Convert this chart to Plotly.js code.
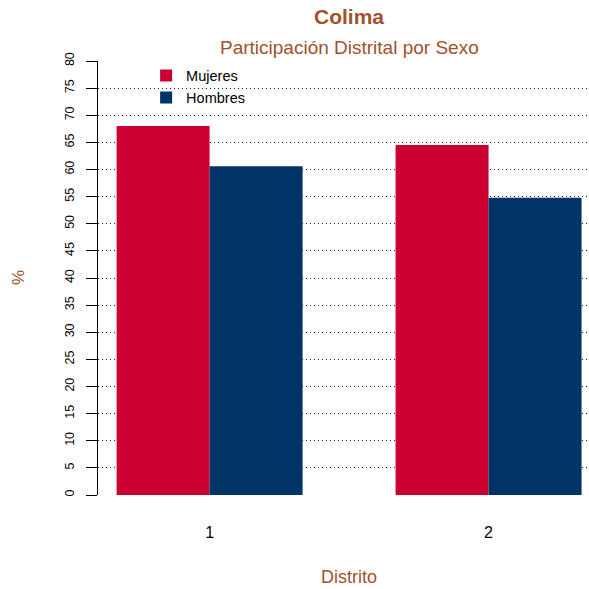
<!DOCTYPE html>
<html>
<head>
<meta charset="utf-8">
<script src="https://cdn.plot.ly/plotly-3.0.1.min.js"></script>
<style>html,body{margin:0;padding:0;background:#fff}</style>
</head>
<body>
<div id="chart" style="width:589px;height:589px"></div>
<script>
var distritos = ["1", "2"];
var mujeres = [68.0, 64.5];
var hombres = [60.6, 54.8];
var seriesNames = ["Mujeres", "Hombres"];
var yTicks = [0,5,10,15,20,25,30,35,40,45,50,55,60,65,70,75,80];

var sienna = "#A0522D";
var font = "Liberation Sans, Arial, sans-serif";

var traces = [
  {type: "bar", x: distritos, y: mujeres, name: seriesNames[0],
   marker: {color: "#CC0033", line: {width: 0}}, hoverinfo: "skip"},
  {type: "bar", x: distritos, y: hombres, name: seriesNames[1],
   marker: {color: "#003366", line: {width: 0}}, hoverinfo: "skip"}
];

var layout = {
  width: 589, height: 589,
  margin: {l: 98, r: 0, t: 61, b: 94, pad: 0},
  paper_bgcolor: "#fff", plot_bgcolor: "#fff",
  font: {family: font, color: "#000"},
  barmode: "group", bargap: 1/3, bargroupgap: 0,
  showlegend: true,
  legend: {x: 0.098, y: 1.003, xanchor: "left", yanchor: "top",
           bgcolor: "rgba(0,0,0,0)", font: {size: 14.5, color: "#000"},
           itemwidth: 30, tracegroupgap: 0},
  title: {text: "<b>Colima</b>", x: 349/589, xanchor: "center", xref: "container",
          y: 1 - 17/589, yanchor: "middle", yref: "container",
          font: {size: 21, color: sienna, family: font}},
  annotations: [
    {text: "Participación Distrital por Sexo", xref: "paper", yref: "paper",
     x: (349-98)/491, y: 1 + 13/434, xanchor: "center", yanchor: "middle",
     showarrow: false, font: {size: 19, color: sienna, family: font}},
    {text: "Distrito", xref: "paper", yref: "paper",
     x: (349-98)/491, y: -(577-495)/434, xanchor: "center", yanchor: "middle",
     showarrow: false, font: {size: 18, color: sienna, family: font}},
    {text: "%", xref: "paper", yref: "paper", textangle: -90,
     x: -(98-18)/491, y: (495-278)/434, xanchor: "center", yanchor: "middle",
     showarrow: false, font: {size: 17, color: sienna, family: font}}
  ],
  xaxis: {type: "category", range: [-0.4, 1.36], showline: false, zeroline: false,
          showgrid: false, ticks: "", tickfont: {size: 16, color: "#000"},
          ticklabelstandoff: 26},
  yaxis: {range: [0, 80], tickmode: "array", tickvals: yTicks, ticktext: yTicks.map(String),
          showline: true, linecolor: "#000", linewidth: 1, zeroline: false,
          ticks: "outside", ticklen: 11, tickcolor: "#000", tickwidth: 1,
          tickangle: -90, tickfont: {size: 12.5, color: "#000"}, ticklabelstandoff: 7,
          showgrid: true, gridcolor: "#222", gridwidth: 1, griddash: "1px,3px"}
};

Plotly.newPlot("chart", traces, layout, {staticPlot: true, displayModeBar: false});
</script>
</body>
</html>
